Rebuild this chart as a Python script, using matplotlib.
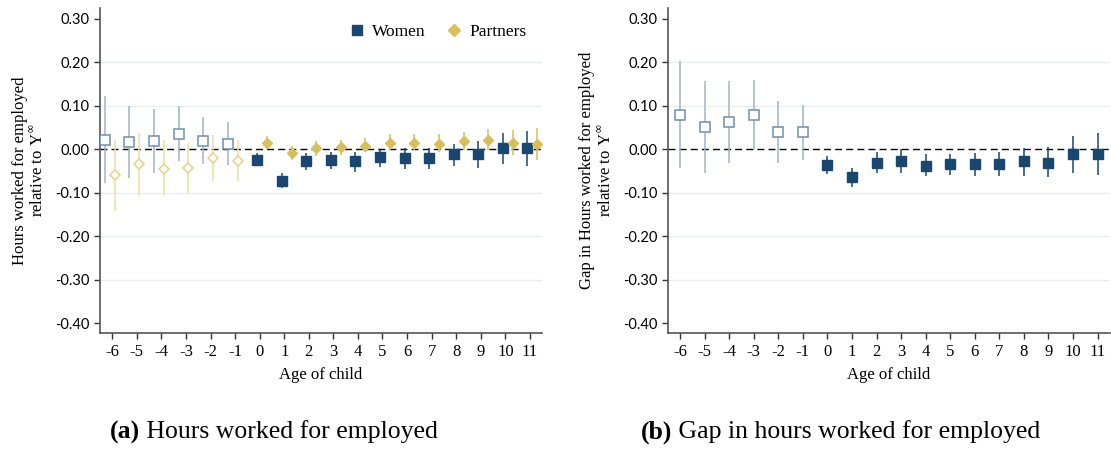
import matplotlib
matplotlib.use("Agg")
import matplotlib.pyplot as plt
from matplotlib.lines import Line2D

# Event time (age of child)
ages = list(range(-6, 12))

# Panel (a): hours worked for employed, relative to Y-infinity
women_est = [0.022, 0.017, 0.018, 0.036, 0.018, 0.013,
             -0.024, -0.072, -0.028, -0.025, -0.028, -0.018,
             -0.019, -0.021, -0.012, -0.012, 0.002, 0.002]
women_lo = [-0.078, -0.066, -0.054, -0.028, -0.035, -0.036,
            -0.038, -0.089, -0.047, -0.045, -0.053, -0.041,
            -0.045, -0.045, -0.038, -0.042, -0.033, -0.039]
women_hi = [0.122, 0.100, 0.092, 0.099, 0.075, 0.063,
            -0.008, -0.055, -0.008, -0.006, -0.006, -0.001,
            0.002, 0.003, 0.013, 0.018, 0.038, 0.042]

partners_est = [-0.059, -0.035, -0.045, -0.042, -0.021, -0.026,
                0.014, -0.008, 0.004, 0.005, 0.008, 0.015,
                0.015, 0.013, 0.018, 0.021, 0.014, 0.012]
partners_lo = [-0.141, -0.108, -0.108, -0.100, -0.073, -0.073,
               0.001, -0.024, -0.015, -0.014, -0.006, -0.001,
               -0.002, -0.006, -0.002, -0.001, -0.014, -0.024]
partners_hi = [0.022, 0.038, 0.021, 0.015, 0.032, 0.021,
               0.030, 0.008, 0.018, 0.021, 0.025, 0.036,
               0.034, 0.034, 0.039, 0.046, 0.044, 0.048]

# Panel (b): gap (women minus partners)
gap_est = [0.080, 0.051, 0.062, 0.078, 0.040, 0.039,
           -0.037, -0.065, -0.031, -0.026, -0.038, -0.035,
           -0.035, -0.033, -0.028, -0.031, -0.012, -0.012]
gap_lo = [-0.043, -0.055, -0.032, -0.002, -0.032, -0.025,
          -0.058, -0.087, -0.055, -0.055, -0.062, -0.059,
          -0.061, -0.062, -0.061, -0.065, -0.054, -0.060]
gap_hi = [0.203, 0.158, 0.157, 0.159, 0.111, 0.102,
          -0.016, -0.042, -0.006, 0.000, -0.012, -0.010,
          -0.008, -0.006, 0.004, 0.005, 0.030, 0.038]

yticks = [0.30, 0.20, 0.10, 0.00, -0.10, -0.20, -0.30, -0.40]

NAVY = "#1a476f"
NAVY_LIGHT = "#9fb4c9"
NAVY_EDGE = "#6f8fb0"
GOLD = "#d9be5c"
GOLD_LIGHT = "#f0dea6"
GOLD_EDGE = "#ead08a"

SERIF = ["Liberation Serif", "DejaVu Serif"]
SANS = ["Lato", "DejaVu Sans"]

fig = plt.figure(figsize=(11.11, 4.5), dpi=100)
ax_a = fig.add_axes([0.090, 0.260, 0.398, 0.722])
ax_b = fig.add_axes([0.601, 0.260, 0.398, 0.722])


def style_axes(ax, ylabel):
    ax.set_xlim(-6.5, 11.5)
    ax.set_ylim(-0.423, 0.325)
    for yv in [0.2, 0.1, -0.1, -0.2, -0.3]:
        ax.axhline(yv, color="#e4eef0", lw=0.9, zorder=0)
    ax.axhline(0, color="black", lw=1.0, ls=(0, (5, 3)), zorder=1)
    for s in ["top", "right"]:
        ax.spines[s].set_visible(False)
    for s in ["left", "bottom"]:
        ax.spines[s].set_color("#555555")
        ax.spines[s].set_linewidth(1.2)
    ax.set_xticks(ages)
    ax.set_xticklabels([str(a) for a in ages], fontfamily=SERIF, fontsize=12)
    ax.set_yticks(yticks)
    ax.set_yticklabels([f"{v:.2f}" for v in yticks], fontfamily=SANS, fontsize=10.5)
    ax.tick_params(axis="both", direction="out", length=4, width=1, color="#333333")
    ax.tick_params(axis="x", pad=4)
    ax.set_xlabel("Age of child", fontfamily=SERIF, fontsize=12, labelpad=5)
    ax.set_ylabel(ylabel, fontfamily=SERIF, fontsize=12, linespacing=1.15, labelpad=6)


def draw_series(ax, xs, est, lo, hi, pre_off, post_off, marker, ms,
                col, col_light, col_edge):
    for x, e, l, h in zip(xs, est, lo, hi):
        pre = x < 0
        xp = x + (pre_off if pre else post_off)
        ax.plot([xp, xp], [l, h], color=col_light if pre else col,
                lw=1.1, zorder=2, solid_capstyle="butt")
        if pre:
            ax.plot(xp, e, marker=marker, ms=ms, mfc="white", mec=col_edge,
                    mew=1.1, zorder=3, ls="none")
        else:
            ax.plot(xp, e, marker=marker, ms=ms, mfc=col, mec=col,
                    zorder=3, ls="none")


ylab = "Hours worked for employed\nrelative to Y$^{\\infty}$"
style_axes(ax_a, ylab)
draw_series(ax_a, ages, women_est, women_lo, women_hi, -0.3, -0.1,
            "s", 6.5, NAVY, NAVY_LIGHT, NAVY_EDGE)
draw_series(ax_a, ages, partners_est, partners_lo, partners_hi, 0.1, 0.3,
            "D", 5.5, GOLD, GOLD_LIGHT, GOLD_EDGE)

handles = [Line2D([], [], marker="s", ms=7, color=NAVY, ls="none"),
           Line2D([], [], marker="D", ms=6, color=GOLD, ls="none")]
ax_a.legend(handles, ["Women", "Partners"], loc="upper right", ncol=2,
            frameon=False, prop={"family": SERIF, "size": 12.5},
            handletextpad=0.3, columnspacing=1.0, handlelength=1.2,
            bbox_to_anchor=(1.0, 1.0))

style_axes(ax_b, "Gap in Hours worked for employed\nrelative to Y$^{\\infty}$")
draw_series(ax_b, ages, gap_est, gap_lo, gap_hi, 0.0, 0.0,
            "s", 6.5, NAVY, NAVY_LIGHT, NAVY_EDGE)

# Sub-figure captions: bold tag followed by regular text, centred as a unit
CAP_SIZE = 18.5
for xc, tag, txt in [(0.246, "(a)", " Hours worked for employed"),
                     (0.756, "(b)", " Gap in hours worked for employed")]:
    probe = fig.text(xc, 0.04, tag + txt, alpha=0, ha="center", va="center",
                     fontsize=CAP_SIZE, fontfamily=SERIF)
    fig.canvas.draw()
    x0 = probe.get_window_extent().x0 / fig.bbox.width
    probe.remove()
    a = fig.text(x0, 0.04, tag, ha="left", va="center", fontsize=CAP_SIZE,
                 fontfamily=SERIF, fontweight="bold")
    fig.canvas.draw()
    wa = a.get_window_extent().width / fig.bbox.width
    fig.text(x0 + wa, 0.04, txt, ha="left", va="center", fontsize=CAP_SIZE,
             fontfamily=SERIF)

fig.savefig("out.png", dpi=100)
